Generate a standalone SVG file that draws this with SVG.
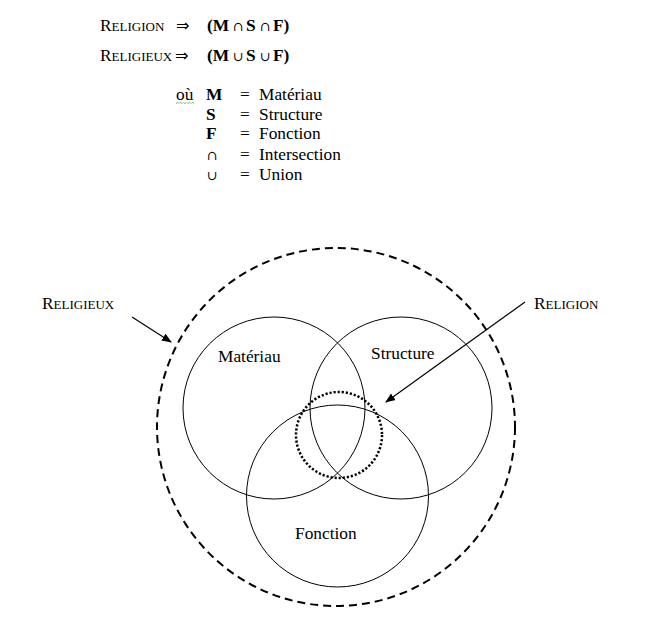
<svg xmlns="http://www.w3.org/2000/svg" width="649" height="641" viewBox="0 0 649 641">
<style>
  text { font-family: "Liberation Serif", "Times New Roman", serif; font-size: 17.33px; fill: #000; }
  .sc { font-size: 13px; }
  .b { font-weight: bold; }
  .sym { font-family: "DejaVu Serif", "DejaVu Sans", serif; font-size: 13px; }
  .arr { font-family: "DejaVu Sans", sans-serif; font-size: 16px; }
  .set { fill: none; stroke: #000; stroke-width: 1; }
  .conn { stroke: #000; stroke-width: 1.2; fill: none; marker-end: url(#ah); }
</style>
<defs>
  <marker id="ah" viewBox="0 0 10 10" refX="9" refY="5" markerWidth="10" markerHeight="10" markerUnits="userSpaceOnUse" orient="auto">
    <path d="M0,1 L10,5 L0,9 Z" fill="#000"/>
  </marker>
</defs>
<rect width="649" height="641" fill="#fff"/>

<g id="formulas">
  <text x="100" y="31">R<tspan class="sc">ELIGION</tspan></text>
  <text class="arr" x="176" y="31">⇒</text>
  <text class="b" x="207" y="31">(M</text>
  <text class="sym" x="233" y="31">∩</text>
  <text class="b" x="246" y="31">S</text>
  <text class="sym" x="260" y="31">∩</text>
  <text class="b" x="273" y="31">F)</text>

  <text x="100" y="61">R<tspan class="sc">ELIGIEUX</tspan></text>
  <text class="arr" x="175" y="61">⇒</text>
  <text class="b" x="207" y="61">(M</text>
  <text class="sym" x="233" y="61">∪</text>
  <text class="b" x="246" y="61">S</text>
  <text class="sym" x="260" y="61">∪</text>
  <text class="b" x="273" y="61">F)</text>
</g>

<g id="legend">
  <text x="176" y="100">où</text>
  <path d="M176,103.5 l1.5,-1 l1.5,1 l1.5,-1 l1.5,1 l1.5,-1 l1.5,1 l1.5,-1 l1.5,1 l1.5,-1 l1.5,1 l1.5,-1 l1.5,1" fill="none" stroke="#4c9a3c" stroke-width="1" stroke-dasharray="1 0.6"/>
  <text class="b" x="206" y="100">M</text>
  <text x="240" y="100">=</text>
  <text x="259" y="100">Matériau</text>
  <text class="b" x="206" y="119.5">S</text>
  <text x="240" y="119.5">=</text>
  <text x="259" y="119.5">Structure</text>
  <text class="b" x="206" y="139">F</text>
  <text x="240" y="139">=</text>
  <text x="259" y="139">Fonction</text>
  <text class="sym" x="207" y="160">∩</text>
  <text x="240" y="160">=</text>
  <text x="259" y="160">Intersection</text>
  <text class="sym" x="207" y="180">∪</text>
  <text x="240" y="180">=</text>
  <text x="259" y="180">Union</text>
</g>

<g id="religieux">
  <circle cx="336" cy="427" r="179" fill="none" stroke="#000" stroke-width="2" stroke-dasharray="8 5"/>
  <text x="42" y="309">R<tspan class="sc">ELIGIEUX</tspan></text>
</g>
<g id="materiau">
  <circle class="set" cx="274" cy="408" r="91"/>
  <text x="218" y="362">Matériau</text>
</g>
<g id="structure">
  <circle class="set" cx="401" cy="408" r="91"/>
  <text x="371" y="359">Structure</text>
</g>
<g id="fonction">
  <circle class="set" cx="337.5" cy="496" r="91"/>
  <text x="295" y="539">Fonction</text>
</g>
<g id="religion">
  <circle cx="339" cy="435" r="43" fill="none" stroke="#000" stroke-width="2.5" stroke-dasharray="2.2 1.9"/>
  <text x="534" y="309">R<tspan class="sc">ELIGION</tspan></text>
</g>

<g id="connectors">
  <line class="conn" x1="132" y1="317" x2="171" y2="342"/>
  <line class="conn" x1="525" y1="302" x2="386" y2="402"/>
</g>
</svg>
